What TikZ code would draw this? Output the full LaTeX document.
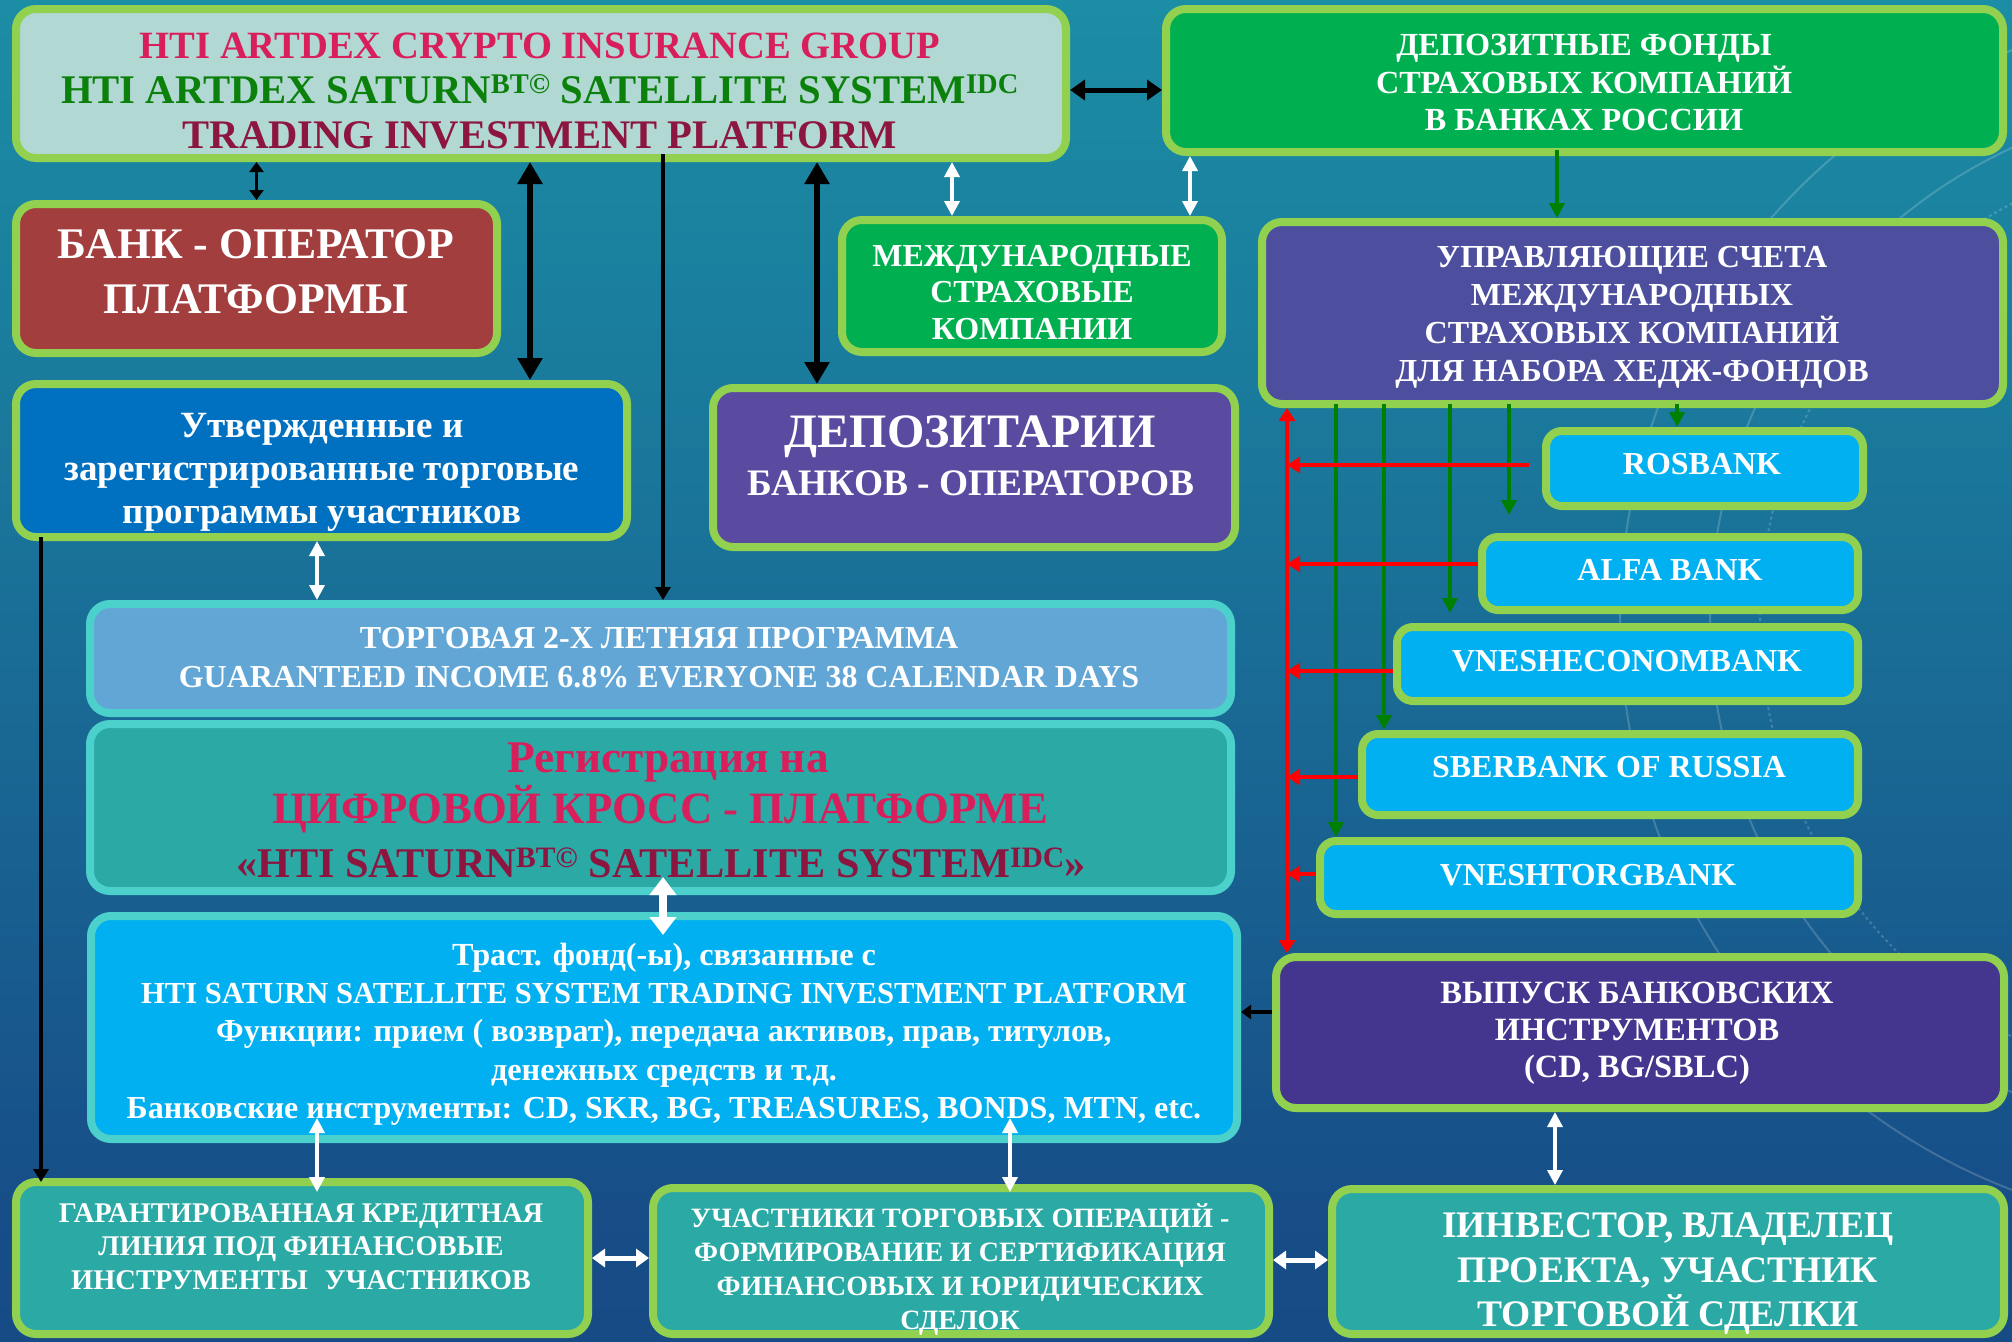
\documentclass[tikz,border=0pt]{standalone}
\usepackage{fontspec}
\setmainfont{Liberation Serif}
\usetikzlibrary{arrows.meta,calc}

\definecolor{bord}{HTML}{92D050}
\definecolor{turq}{HTML}{4BD0CC}
\definecolor{titlefill}{HTML}{B2D8D4}
\definecolor{depgreen}{HTML}{00B050}
\definecolor{redbox}{HTML}{A33E3F}
\definecolor{bluebox}{HTML}{0070C0}
\definecolor{purpA}{HTML}{5A4BA0}
\definecolor{purpB}{HTML}{4D4F9E}
\definecolor{purpC}{HTML}{44368E}
\definecolor{cyanbox}{HTML}{00B0F0}
\definecolor{ltblue}{HTML}{62A6D6}
\definecolor{tealbox}{HTML}{2BA9A5}
\definecolor{crim}{HTML}{D81E5B}
\definecolor{tgreen}{HTML}{0B800B}
\definecolor{maroonT}{HTML}{8C1640}
\definecolor{arrgreen}{HTML}{008000}
\definecolor{bgz}{HTML}{133B7B}
\definecolor{bgy}{HTML}{174E88}
\definecolor{bgx}{HTML}{1A7A9C}
\definecolor{bgw}{HTML}{1C9AAA}
\definecolor{bgv}{HTML}{1EA9AF}

\pgfdeclareverticalshading{bgshade}{100bp}{color(0bp)=(bgz); color(30bp)=(bgy); color(60bp)=(bgx); color(85bp)=(bgw); color(100bp)=(bgv)}

\newcommand{\myfs}[2]{\fontsize{#1pt}{#2pt}\selectfont}

\begin{document}
\begin{tikzpicture}[x=1pt,y=-1pt,
  box/.style={draw=bord, line width=8pt, rounded corners=20pt, inner sep=0pt},
  tbox/.style={box, draw=turq},
  bank/.style={box, fill=cyanbox, rounded corners=16pt},
  txt/.style={text=white, align=center, inner sep=0pt},
  bline/.style={txt, anchor=base},
  deco/.style={draw=white, opacity=0.18, line width=2pt},
  blkA/.style={draw=black, line width=5pt, {Triangle[length=15pt,width=20pt]}-{Triangle[length=15pt,width=20pt]}},
  blkL/.style={draw=black, line width=6pt, {Triangle[length=22pt,width=24pt]}-{Triangle[length=22pt,width=24pt]}},
  blkS/.style={draw=black, line width=3pt, {Triangle[length=10pt,width=14pt]}-{Triangle[length=10pt,width=14pt]}},
  blkM/.style={draw=black, line width=3.5pt, -{Triangle[length=13pt,width=15pt]}},
  blkT/.style={draw=black, line width=4pt, -{Triangle[length=10pt,width=14pt]}},
  wht/.style={draw=white, line width=3.5pt, {Triangle[length=15pt,width=15pt]}-{Triangle[length=15pt,width=15pt]}},
  whtB/.style={draw=white, line width=8pt, {Triangle[length=18pt,width=26pt]}-{Triangle[length=18pt,width=26pt]}},
  whtH/.style={draw=white, line width=5pt, {Triangle[length=13pt,width=18pt]}-{Triangle[length=13pt,width=18pt]}},
  grnA/.style={draw=arrgreen, line width=4.5pt, -{Triangle[length=15pt,width=15pt]}},
  redA/.style={draw=red, line width=4.5pt, -{Triangle[length=13pt,width=16pt]}},
  redD/.style={draw=red, line width=4pt, {Triangle[length=13pt,width=16pt]}-{Triangle[length=13pt,width=16pt]}}
]
\useasboundingbox (0,0) rectangle (2012,1341);
\shade[shading=bgshade] (0,0) rectangle (2012,1341);
% faint background decoration
\begin{scope}
\clip (0,0) rectangle (2012,1341);
\draw[deco] (2230,620) circle[radius=520];
\draw[deco, dashed] (2230,620) circle[radius=470];
\draw[deco] (2230,620) circle[radius=610];
\end{scope}

% boxes
\node[box, fill=titlefill, minimum width=1050pt, minimum height=149pt] (title) at (541,83.5) {};
\node[box, fill=depgreen, minimum width=837pt, minimum height=143pt] (deposit) at (1584.5,80.5) {};
\node[box, fill=redbox, minimum width=481pt, minimum height=149pt] (bankop) at (256.5,278.5) {};
\node[box, fill=depgreen, minimum width=380pt, minimum height=132pt] (intl) at (1032,286) {};
\node[box, fill=purpB, minimum width=741pt, minimum height=182pt] (mgmt) at (1632.5,313) {};
\node[box, fill=bluebox, minimum width=611pt, minimum height=153pt] (approved) at (321.5,460.5) {};
\node[box, fill=purpA, minimum width=522pt, minimum height=159pt] (depos) at (974,467.5) {};
\node[bank, minimum width=317pt, minimum height=75pt] (rosb) at (1704.5,468.5) {};
\node[bank, minimum width=376pt, minimum height=73pt] (alfa) at (1670,573.5) {};
\node[bank, minimum width=461pt, minimum height=74pt] (vneb) at (1627.5,664) {};
\node[bank, minimum width=496pt, minimum height=81pt] (sber) at (1610,774.5) {};
\node[bank, minimum width=538pt, minimum height=73pt] (vtb) at (1589,877.5) {};
\node[tbox, fill=ltblue, minimum width=1141pt, minimum height=109pt] (trading) at (660.5,658.5) {};
\node[tbox, fill=tealbox, minimum width=1141pt, minimum height=167pt] (regist) at (660.5,807.5) {};
\node[tbox, fill=cyanbox, minimum width=1146pt, minimum height=223pt] (trust) at (664,1027.5) {};
\node[box, fill=purpC, minimum width=728pt, minimum height=151pt] (issue) at (1640,1032.5) {};
\node[box, fill=tealbox, minimum width=572pt, minimum height=152pt] (credit) at (302,1258) {};
\node[box, fill=tealbox, minimum width=616pt, minimum height=146pt] (partic) at (961,1261) {};
\node[box, fill=tealbox, minimum width=672pt, minimum height=145pt] (invest) at (1668,1261.5) {};

% texts
\node[bline, text=crim, font=\bfseries\myfs{38.6}{45}] (titleT1) at (540,58) {HTI ARTDEX CRYPTO INSURANCE GROUP};
\node[bline, text=tgreen, font=\bfseries\myfs{40.7}{45}] (titleT2) at (540,103) {HTI ARTDEX SATURN\textsuperscript{BT©} SATELLITE SYSTEM\textsuperscript{IDC}};
\node[bline, text=maroonT, font=\bfseries\myfs{40.6}{45}] (titleT3) at (540,148) {TRADING INVESTMENT PLATFORM};
\node[txt, font=\bfseries\myfs{32.2}{37.5}] (depositT) at (1584,82.5) {ДЕПОЗИТНЫЕ ФОНДЫ\\СТРАХОВЫХ КОМПАНИЙ\\В БАНКАХ РОССИИ};
\node[txt, font=\bfseries\myfs{43.7}{55}] (bankopT) at (256,272) {БАНК - ОПЕРАТОР\\ПЛАТФОРМЫ};
\node[txt, font=\bfseries\myfs{32}{36.5}] (intlT) at (1032,292.5) {МЕЖДУНАРОДНЫЕ\\СТРАХОВЫЕ\\КОМПАНИИ};
\node[txt, font=\bfseries\myfs{32.1}{38}] (mgmtT) at (1632,317) {УПРАВЛЯЮЩИЕ СЧЕТА\\МЕЖДУНАРОДНЫХ\\СТРАХОВЫХ КОМПАНИЙ\\ДЛЯ НАБОРА ХЕДЖ-ФОНДОВ};
\node[txt, font=\bfseries\myfs{37}{43}] (approvedT) at (322,472) {Утвержденные и\\зарегистрированные торговые\\программы участников};
\node[bline, font=\bfseries\myfs{48}{55}] (deposT1) at (970,447) {ДЕПОЗИТАРИИ};
\node[bline, font=\bfseries\myfs{37.4}{44}] (deposT2) at (971,495) {БАНКОВ - ОПЕРАТОРОВ};
\node[bline, font=\bfseries\myfs{32}{38}] (rosbT) at (1702,474) {ROSBANK};
\node[bline, font=\bfseries\myfs{32}{38}] (alfaT) at (1670,580) {ALFA BANK};
\node[bline, font=\bfseries\myfs{32}{38}] (vnebT) at (1627,671) {VNESHECONOMBANK};
\node[bline, font=\bfseries\myfs{32}{38}] (sberT) at (1609,777) {SBERBANK OF RUSSIA};
\node[bline, font=\bfseries\myfs{32}{38}] (vtbT) at (1588,885) {VNESHTORGBANK};
\node[txt, font=\bfseries\myfs{32}{39}] (tradingT) at (659,657.5) {ТОРГОВАЯ 2-Х ЛЕТНЯЯ ПРОГРАММА\\GUARANTEED INCOME 6.8\% EVERYONE 38 CALENDAR DAYS};
\node[bline, text=crim, font=\bfseries\myfs{45.3}{52}] (registT1) at (668,772) {Регистрация на};
\node[bline, text=crim, font=\bfseries\myfs{44.8}{52}] (registT2) at (660,823) {ЦИФРОВОЙ КРОСС - ПЛАТФОРМЕ};
\node[bline, text=maroonT, font=\bfseries\myfs{42.3}{52}] (registT3) at (661,877) {«HTI SATURN\textsuperscript{BT©} SATELLITE SYSTEM\textsuperscript{IDC}»};
\node[bline, font=\bfseries\myfs{32.2}{38}] (trustT1) at (664,965) {Траст. фонд(-ы), связанные с};
\node[bline, font=\bfseries\myfs{30.6}{38}] (trustT2) at (664,1003) {HTI SATURN SATELLITE SYSTEM TRADING INVESTMENT PLATFORM};
\node[bline, font=\bfseries\myfs{32.1}{38}] (trustT3) at (664,1041) {Функции: прием ( возврат), передача активов, прав, титулов,};
\node[bline, font=\bfseries\myfs{32.3}{38}] (trustT4) at (664,1080) {денежных средств и т.д.};
\node[bline, font=\bfseries\myfs{32}{38}] (trustT5) at (664,1118) {Банковские инструменты: CD, SKR, BG, TREASURES, BONDS, MTN, etc.};
\node[txt, font=\bfseries\myfs{32.5}{37}] (issueT) at (1637,1033) {ВЫПУСК БАНКОВСКИХ\\ИНСТРУМЕНТОВ\\(CD, BG/SBLC)};
\node[txt, font=\bfseries\myfs{28.5}{33.5}] (creditT) at (301,1246.5) {ГАРАНТИРОВАННАЯ КРЕДИТНАЯ\\ЛИНИЯ ПОД ФИНАНСОВЫЕ\\ИНСТРУМЕНТЫ\hspace{0.6em}УЧАСТНИКОВ};
\node[txt, font=\bfseries\myfs{28}{34}] (particT) at (960,1270) {УЧАСТНИКИ ТОРГОВЫХ ОПЕРАЦИЙ -\\ФОРМИРОВАНИЕ И СЕРТИФИКАЦИЯ\\ФИНАНСОВЫХ И ЮРИДИЧЕСКИХ\\СДЕЛОК};
\node[txt, font=\bfseries\myfs{37.5}{44.5}] (investT) at (1668,1274) {IИНВЕСТОР, ВЛАДЕЛЕЦ\\ПРОЕКТА, УЧАСТНИК\\ТОРГОВОЙ СДЕЛКИ};

% connectors
\draw[blkA] (title.east |- 0,90) -- (deposit.west |- 0,90);
\draw[blkS] (title.south -| bankop.north) -- (bankop.north);
\draw[blkL] (title.south -| 530,0) -- (approved.north -| 530,0);
\draw[blkM] ($(title.south -| 663,0)+(0,-8)$) -- (trading.north -| 663,0);
\draw[blkL] (title.south -| 817,0) -- (depos.north -| 817,0);
\draw[wht] (title.south -| 952,0) -- (intl.north -| 952,0);
\draw[wht] (deposit.south -| 1190,0) -- (intl.north -| 1190,0);
\draw[grnA] ($(deposit.south -| 1557,0)+(0,-6)$) -- (mgmt.north -| 1557,0);

\draw[grnA] ($(mgmt.south -| 1677,0)+(0,-4)$) -- (rosb.north -| 1677,0);
\draw[grnA] ($(mgmt.south -| 1509,0)+(0,-4)$) -- ($(alfa.north -| 1509,0)+(0,-18)$);
\draw[grnA] ($(mgmt.south -| 1450,0)+(0,-4)$) -- ($(vneb.north -| 1450,0)+(0,-10)$);
\draw[grnA] ($(mgmt.south -| 1384,0)+(0,-4)$) -- (sber.north -| 1384,0);
\draw[grnA] ($(mgmt.south -| 1336,0)+(0,-4)$) -- (vtb.north -| 1336,0);

\coordinate (rx) at (mgmt.south -| 1287,0);
\draw[redD] (rx) -- (issue.north -| rx);
\path ($(rosb.west)+(-13,-3.5)$) coordinate (r1)
      ($(alfa.west)+(0,-9.5)$) coordinate (r2)
      ($(vneb.west)+(0,7)$) coordinate (r3)
      ($(sber.west)+(0,2.5)$) coordinate (r4)
      ($(vtb.west)+(0,-3.5)$) coordinate (r5);
\draw[redA] (r1) -- (r1 -| rx);
\draw[redA] (r2) -- (r2 -| rx);
\draw[redA] (r3) -- (r3 -| rx);
\draw[redA] (r4) -- (r4 -| rx);
\draw[redA] (r5) -- (r5 -| rx);

\draw[blkT] (issue.west |- 0,1012) -- (trust.east |- 0,1012);
\draw[wht] (issue.south -| 1555,0) -- (invest.north -| 1555,0);
\draw[wht] (approved.south -| 317,0) -- (trading.north -| 317,0);
\draw[blkM] ($(approved.south -| 41,0)+(0,-4)$) -- ($(credit.north -| 41,0)+(0,4)$);
\draw[whtB] ($(regist.south -| 663,0)+(0,-18)$) -- ($(trust.north -| 663,0)+(0,23)$);
\draw[wht] ($(trust.south -| 317,0)+(0,-25)$) -- ($(credit.north -| 317,0)+(0,14)$);
\draw[wht] ($(trust.south -| 1010,0)+(0,-25)$) -- ($(partic.north -| 1010,0)+(0,8)$);
\draw[whtH] (credit.east |- 0,1258) -- (partic.west |- 0,1258);
\draw[whtH] (partic.east |- 0,1260) -- (invest.west |- 0,1260);
\end{tikzpicture}
\end{document}
